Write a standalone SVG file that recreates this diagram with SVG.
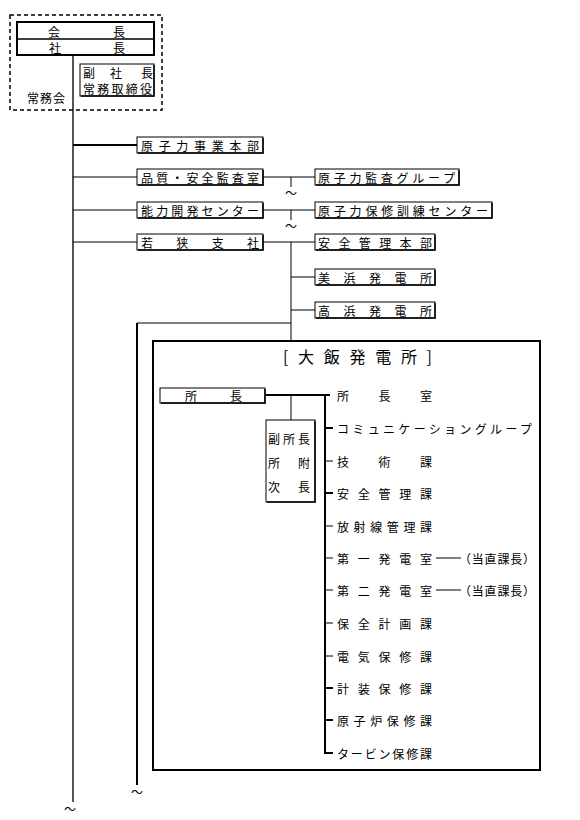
<svg xmlns="http://www.w3.org/2000/svg" width="580" height="820" viewBox="0 0 580 820">
<style>
text{font-family:"Noto Sans CJK JP","Noto Sans CJK SC",sans-serif;font-size:12px;fill:#000;dominant-baseline:central}
.box{fill:#fff;stroke:#000;stroke-width:1}
.sh{fill:none;stroke:#000;stroke-width:1.5}
.ln{fill:none;stroke:#000;stroke-width:1}
.th{fill:none;stroke:#000;stroke-width:2}
.gr{fill:none;stroke:#555;stroke-width:2}
.til{font-size:12px}
</style>
<rect width="580" height="820" fill="#fff"/>
<g id="connectors">
<line class="gr" x1="73" y1="55" x2="73" y2="802"/>
<line class="th" x1="73" y1="145" x2="137" y2="145"/>
<line class="ln" x1="73" y1="177" x2="137" y2="177"/>
<line class="ln" x1="73" y1="210" x2="137" y2="210"/>
<line class="ln" x1="73" y1="242" x2="137" y2="242"/>
<line class="ln" x1="263" y1="177" x2="315" y2="177"/>
<line class="ln" x1="291" y1="177" x2="291" y2="187"/>
<text class="til" x="291" y="192" text-anchor="middle">～</text>
<line class="ln" x1="263" y1="210" x2="315" y2="210"/>
<line class="ln" x1="291" y1="210" x2="291" y2="220"/>
<text class="til" x="291" y="225" text-anchor="middle">～</text>
<line class="ln" x1="263" y1="242" x2="315" y2="242"/>
<line class="ln" x1="291" y1="242" x2="291" y2="341"/>
<line class="ln" x1="291" y1="277" x2="315" y2="277"/>
<line class="ln" x1="291" y1="310" x2="315" y2="310"/>
<line class="ln" x1="137" y1="323" x2="291" y2="323"/>
<line class="th" x1="137" y1="323" x2="137" y2="785"/>
<text class="til" x="137" y="791" text-anchor="middle">～</text>
<text class="til" x="70" y="808" text-anchor="middle">～</text>
<line class="th" x1="265" y1="395" x2="330" y2="395"/>
<line class="ln" x1="291" y1="395" x2="291" y2="420"/>
<polyline class="th" points="325,395 325,753 333,753"/>
<line class="th" x1="325" y1="428" x2="333" y2="428"/>
<line class="ln" x1="325" y1="461" x2="333" y2="461"/>
<line class="th" x1="325" y1="493" x2="333" y2="493"/>
<line class="ln" x1="325" y1="526" x2="333" y2="526"/>
<line class="ln" x1="325" y1="558" x2="333" y2="558"/>
<line class="ln" x1="325" y1="590" x2="333" y2="590"/>
<line class="ln" x1="325" y1="623" x2="333" y2="623"/>
<line class="ln" x1="325" y1="656" x2="333" y2="656"/>
<line class="th" x1="325" y1="688" x2="333" y2="688"/>
<line class="th" x1="325" y1="720" x2="333" y2="720"/>
<line class="ln" x1="436" y1="558" x2="461" y2="558"/>
<line class="ln" x1="436" y1="590" x2="461" y2="590"/>
</g>
<g id="jomukai">
<rect x="10" y="15" width="152" height="95" fill="none" stroke="#000" stroke-width="1.5" stroke-dasharray="4,3"/>
<text x="27" y="97" textLength="38" lengthAdjust="spacing">常務会</text>
</g>
<g id="kaicho">
<rect x="17" y="22" width="137" height="33" fill="#fff" stroke="#000" stroke-width="2"/>
<line x1="17" y1="39" x2="154" y2="39" stroke="#000" stroke-width="1.5"/>
<text x="48 113" y="31">会長</text>
<text x="49 113" y="47">社長</text>
</g>
<g id="fukushacho">
<rect class="box" x="80" y="64" width="74" height="32"/>
<polyline class="sh" points="154,65 154,96 81,96"/>
<text x="83 110 141" y="72">副社長</text>
<text x="83" y="88" textLength="69" lengthAdjust="spacing">常務取締役</text>
</g>
<g id="genshiryoku-jigyo">
<rect class="box" x="137" y="137" width="126" height="16"/>
<polyline class="sh" points="263,138 263,153 138,153"/>
<text x="141" y="145" textLength="118" lengthAdjust="spacing">原子力事業本部</text>
</g>
<g id="hinshitsu">
<rect class="box" x="137" y="169" width="126" height="16"/>
<polyline class="sh" points="263,170 263,185 138,185"/>
<text x="141" y="177" textLength="118" lengthAdjust="spacing">品質・安全監査室</text>
</g>
<g id="noryoku">
<rect class="box" x="137" y="202" width="126" height="16"/>
<polyline class="sh" points="263,203 263,218 138,218"/>
<text x="141" y="210" textLength="118" lengthAdjust="spacing">能力開発センター</text>
</g>
<g id="wakasa">
<rect class="box" x="137" y="234" width="126" height="16"/>
<polyline class="sh" points="263,235 263,250 138,250"/>
<text x="141" y="242" textLength="118" lengthAdjust="spacing">若狭支社</text>
</g>
<g id="kansa-group">
<rect class="box" x="315" y="169" width="144" height="16"/>
<polyline class="sh" points="459,170 459,185 316,185"/>
<text x="318" y="177" textLength="137" lengthAdjust="spacing">原子力監査グループ</text>
</g>
<g id="hoshu-kunren">
<rect class="box" x="315" y="202" width="177" height="16"/>
<polyline class="sh" points="492,203 492,218 316,218"/>
<text x="318" y="210" textLength="170" lengthAdjust="spacing">原子力保修訓練センター</text>
</g>
<g id="anzen-kanri">
<rect class="box" x="315" y="234" width="120" height="16"/>
<polyline class="sh" points="435,235 435,250 316,250"/>
<text x="318" y="242" textLength="114" lengthAdjust="spacing">安全管理本部</text>
</g>
<g id="mihama">
<rect class="box" x="315" y="269" width="120" height="16"/>
<polyline class="sh" points="435,270 435,285 316,285"/>
<text x="318" y="277" textLength="114" lengthAdjust="spacing">美浜発電所</text>
</g>
<g id="takahama">
<rect class="box" x="315" y="302" width="120" height="16"/>
<polyline class="sh" points="435,303 435,318 316,318"/>
<text x="318" y="310" textLength="114" lengthAdjust="spacing">高浜発電所</text>
</g>
<g id="ohi">
<rect x="153" y="341" width="387" height="429" fill="none" stroke="#000" stroke-width="2"/>
<text x="283" y="356" style="font-size:16px" textLength="149" lengthAdjust="spacing">[大飯発電所]</text>
</g>
<g id="shocho">
<rect class="box" x="160" y="388" width="105" height="15"/>
<polyline class="sh" points="265,389 265,403 161,403"/>
<text x="185 230" y="395">所長</text>
</g>
<g id="fukushocho">
<rect class="box" x="266" y="420" width="49" height="82"/>
<polyline class="sh" points="315,421 315,502 267,502"/>
<text x="268 283 298" y="438">副所長</text>
<text x="268 298" y="462">所附</text>
<text x="268 298" y="486">次長</text>
</g>
<g id="sections">
<text x="337" y="395" textLength="95" lengthAdjust="spacing">所長室</text>
<text x="337" y="428" textLength="195" lengthAdjust="spacing">コミュニケーショングループ</text>
<text x="337" y="461" textLength="95" lengthAdjust="spacing">技術課</text>
<text x="337" y="493" textLength="95" lengthAdjust="spacing">安全管理課</text>
<text x="337" y="526" textLength="95" lengthAdjust="spacing">放射線管理課</text>
<text x="337" y="558" textLength="95" lengthAdjust="spacing">第一発電室</text>
<text x="459" y="558" textLength="76" lengthAdjust="spacing">（当直課長）</text>
<text x="337" y="590" textLength="95" lengthAdjust="spacing">第二発電室</text>
<text x="459" y="590" textLength="76" lengthAdjust="spacing">（当直課長）</text>
<text x="337" y="623" textLength="95" lengthAdjust="spacing">保全計画課</text>
<text x="337" y="656" textLength="95" lengthAdjust="spacing">電気保修課</text>
<text x="337" y="688" textLength="95" lengthAdjust="spacing">計装保修課</text>
<text x="337" y="720" textLength="95" lengthAdjust="spacing">原子炉保修課</text>
<text x="337" y="753" textLength="95" lengthAdjust="spacing">タービン保修課</text>
</g>
</svg>
